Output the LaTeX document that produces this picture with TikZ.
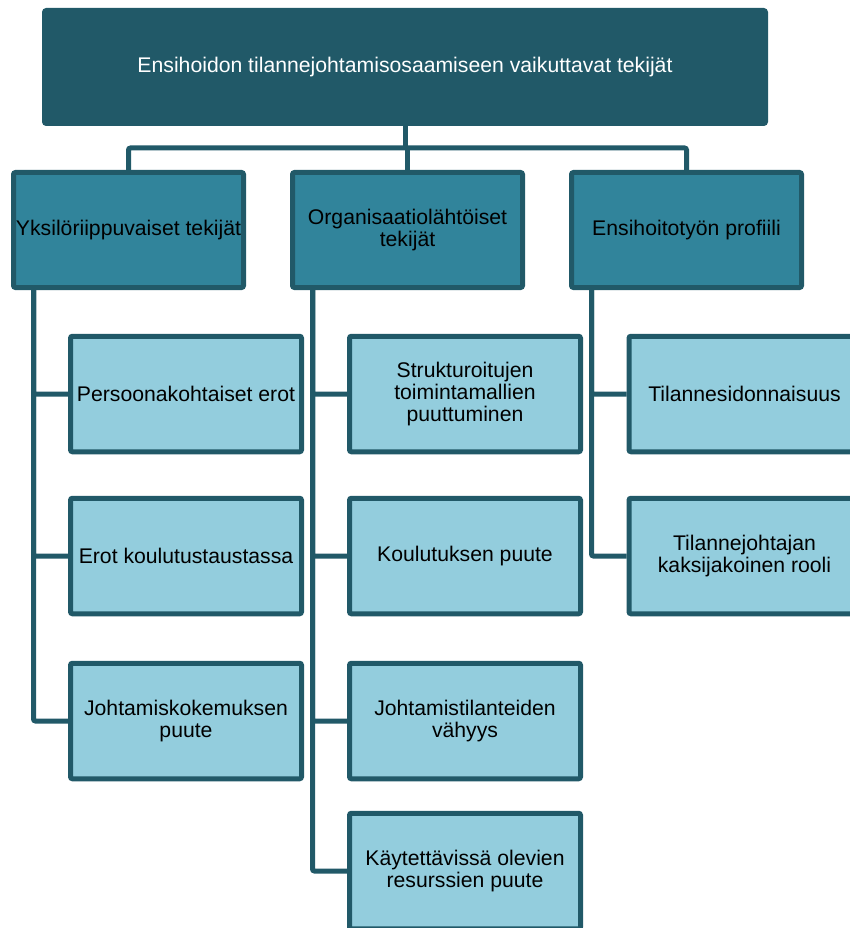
\documentclass[tikz,border=0pt]{standalone}
\usepackage{fontspec}
\setmainfont{Liberation Sans}
\usepackage{tikz}
\definecolor{tealdark}{HTML}{215968}
\definecolor{tealmid}{HTML}{31849B}
\definecolor{teallight}{HTML}{93CDDD}
\tikzset{
  topbox/.style={draw=tealdark,fill=tealdark,text=white,line width=5pt,rounded corners=2pt,
    minimum width=721pt,minimum height=113pt,inner sep=0pt},
  groupbox/.style={draw=tealdark,fill=tealmid,line width=5pt,rounded corners=2pt,
    minimum width=230pt,minimum height=115pt,inner sep=0pt,align=center},
  itembox/.style={groupbox,fill=teallight,minimum width=231pt,minimum height=115.5pt},
  conn/.style={draw=tealdark,line width=5pt,rounded corners=2pt}
}

\begin{document}
\begin{tikzpicture}[x=1pt,y=-1pt,font=\fontsize{21.2}{21.7}\selectfont]
\useasboundingbox (0,0) rectangle (850,928);
\clip (0,0) rectangle (850,928);
\pgfmathsetmacro{\branch}{22.5}
% Top
\node[topbox] (top) at (405,67) {Ensihoidon tilannejohtamisosaamiseen vaikuttavat tekijät};
% Groups
\node[groupbox] (yks) at (128.5,230) {Yksilöriippuvaiset tekijät};
\node[groupbox] (org) at (407.5,230) {Organisaatiolähtöiset\\tekijät};
\node[groupbox] (pro) at (686.5,230) {Ensihoitotyön profiili};
% Items
\node[itembox] (yks1) at (186,394) {Persoonakohtaiset erot};
\node[itembox] (yks2) at (186,556) {Erot koulutustaustassa};
\node[itembox] (yks3) at (186,721) {Johtamiskokemuksen\\puute};
\node[itembox] (org1) at (465,394) {Strukturoitujen\\toimintamallien\\puuttuminen};
\node[itembox] (org2) at (465,556) {Koulutuksen puute};
\node[itembox] (org3) at (465,721) {Johtamistilanteiden\\vähyys};
\node[itembox] (org4) at (465,871) {Käytettävissä olevien\\resurssien puute};
\node[itembox] (pro1) at (744.5,394) {Tilannesidonnaisuus};
\node[itembox] (pro2) at (744.5,556) {Tilannejohtajan\\kaksijakoinen rooli};
% Connectors
\coordinate (bus) at (405,148);
\draw[conn] (top.south) -- (bus);
\draw[conn] (yks.north) |- (bus) -| (pro.north);
\draw[conn] (org.north) -- (org.north |- bus);
\foreach \i in {1,2,3}
  \draw[conn] ([xshift=\branch pt]yks.south west) |- (yks\i.west);
\foreach \i in {1,2,3,4}
  \draw[conn] ([xshift=\branch pt]org.south west) |- (org\i.west);
\foreach \i in {1,2}
  \draw[conn] ([xshift=\branch pt]pro.south west) |- (pro\i.west);
\end{tikzpicture}
\end{document}
